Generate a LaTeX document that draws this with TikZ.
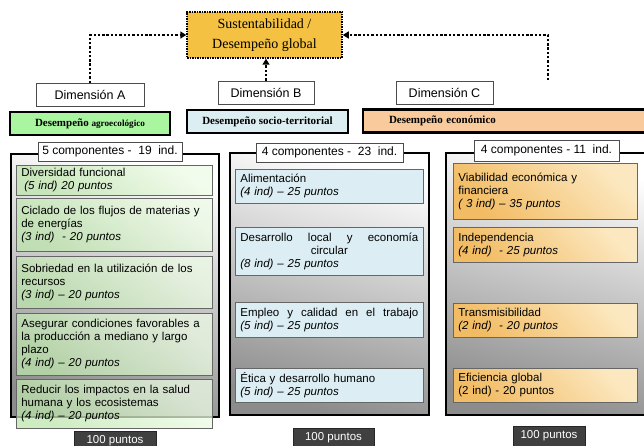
\documentclass[tikz,border=0pt]{standalone}
\usepackage{fontspec}
\setmainfont{Liberation Serif}
\setsansfont{Liberation Sans}
\usetikzlibrary{arrows.meta}

\definecolor{gold}{HTML}{F4C142}
\definecolor{agro}{HTML}{A9F5A0}
\definecolor{socio}{HTML}{DDEEF3}
\definecolor{econ}{HTML}{F8CA9C}
\definecolor{greenlt}{HTML}{EEFCE6}
\definecolor{greendk}{HTML}{BDE5AC}
\definecolor{bluelt}{HTML}{DCEEF4}
\definecolor{orlt}{HTML}{FCE8C0}
\definecolor{ordk}{HTML}{F2BC64}

\tikzset{
  sus/.style={draw, dash pattern=on 1.5pt off 1pt, line width=1.5pt, fill=gold,
    minimum width=155pt, minimum height=46pt, align=center,
    font=\fontsize{14}{20}\selectfont},
  dimbox/.style={draw=black!70, fill=white, line width=0.8pt, minimum height=23pt,
    font=\sffamily\fontsize{12.5}{14}\selectfont},
  perf/.style={draw, line width=2.8pt, minimum height=23pt,
    font=\bfseries\fontsize{11}{13}\selectfont},
  panel/.style={draw, line width=1.7pt, top color=white, middle color=black!8,
    bottom color=black!45, shading angle=-15},
  countbox/.style={draw=black!70, fill=white, line width=0.8pt,
    font=\sffamily\fontsize{12}{14}\selectfont},
  comp/.style={draw=black!60, line width=0.7pt, anchor=north west, align=left,
    inner xsep=5pt, inner ysep=3pt, font=\sffamily\fontsize{11.5}{13}\selectfont},
  compA/.style={comp, top color=greenlt, bottom color=greendk, shading angle=-45,
    fill opacity=0.75, text opacity=1, text width=186pt},
  compB/.style={comp, fill=bluelt, text width=178pt},
  compC/.style={comp, top color=orlt, bottom color=ordk, shading angle=-45,
    text width=174pt},
  points/.style={draw=black!85, fill=black!75, text=white, minimum height=20pt,
    font=\sffamily\fontsize{11.5}{13}\selectfont},
  dotarrow/.style={line width=2.4pt, dash pattern=on 2.4pt off 1.9pt,
    -{Triangle[length=6pt,width=7pt]}}
}

\begin{document}
\begin{tikzpicture}[x=1pt,y=-1pt]
  \useasboundingbox (0,0) rectangle (644,446);
  \clip (0,0) rectangle (644,446);

  % global performance
  \node[sus] (sus) at (264.5,35) {Sustentabilidad /\\Desempeño global};

  % dimensions
  \node[dimbox, minimum width=108pt] (dimA) at (90,95) {Dimensión A};
  \node[dimbox, minimum width=96pt] (dimB) at (266,92.5) {Dimensión B};
  \node[dimbox, minimum width=97pt] (dimC) at (444.5,92.5) {Dimensión C};
  \coordinate (startC) at (548,80);

  \draw[dotarrow] (dimA.north) |- (sus.west);
  \draw[dotarrow] (dimB.north) -- (dimB.north |- sus.south);
  \draw[dotarrow] (startC) |- (sus.east);

  % performance titles
  \node[perf, fill=agro, minimum width=160pt] (perfA) at (90,123.5)
    {Desempeño {\fontsize{9.2}{11}\selectfont agroecológico}};
  \node[perf, fill=socio, minimum width=161pt] (perfB) at (267.5,121.5)
    {Desempeño socio-territorial};
  \node[perf, fill=econ, inner xsep=0pt, text width=290pt, align=left] (perfC) at (508,121)
    {\hspace*{26pt}Desempeño económico};

  % panels
  \node[panel, minimum width=208pt, minimum height=263pt] (panA) at (115,285.5) {};
  \node[panel, minimum width=199pt, minimum height=262pt] (panB) at (329.5,284) {};
  \node[panel, minimum width=210pt, minimum height=262pt] (panC) at (551,284) {};

  \node[countbox, minimum width=144pt, minimum height=19pt] (cntA) at (110,151.5)
    {5 componentes - \ 19 \ ind.};
  \node[countbox, minimum width=147pt, minimum height=19pt] (cntB) at (329.5,152.5)
    {4 componentes - \ 23 \ ind.};
  \node[countbox, minimum width=145pt, minimum height=21pt] (cntC) at (546.5,150.5)
    {4 componentes - 11 \ ind.};

  % dimension A
  \node[compA, minimum height=29pt] (a1) at (16,165)
    {Diversidad funcional\\\hspace*{3pt}\textit{(5 ind) 20 puntos}};
  \node[compA, minimum height=53pt] (a2) at (16,198)
    {Ciclado de los flujos de materias y\\de energías\\\textit{(3 ind) \ - 20 puntos}};
  \node[compA, minimum height=52pt] (a3) at (16,256)
    {Sobriedad en la utilización de los\\recursos\\\textit{(3 ind) -- 20 puntos}};
  \node[compA, minimum height=62pt] (a4) at (16,313)
    {Asegurar condiciones favorables a\\la producción a mediano y largo\\plazo\\\textit{(4 ind) -- 20 puntos}};
  \node[compA, minimum height=49pt] (a5) at (16,379)
    {Reducir los impactos en la salud\\humana y los ecosistemas\\\textit{(4 ind) -- 20 puntos}};

  % dimension B
  \node[compB, minimum height=34pt] (b1) at (235,169)
    {Alimentación\\\textit{(4 ind) -- 25 puntos}};
  \node[compB, minimum height=48pt] (b2) at (235,227)
    {Desarrollo\hfill local\hfill y\hfill economía\\\mbox{}\hfill circular\hfill\mbox{}\\\textit{(8 ind) -- 25 puntos}};
  \node[compB, minimum height=35pt] (b3) at (235,302)
    {Empleo\hfill y\hfill calidad\hfill en\hfill el\hfill trabajo\\\textit{(5 ind) -- 25 puntos}};
  \node[compB, minimum height=34pt] (b4) at (235,368)
    {Ética y desarrollo humano\\\textit{(5 ind) -- 25 puntos}};

  % dimension C
  \node[compC, minimum height=56pt] (c1) at (453,163)
    {Viabilidad económica y\\financiera\\\textit{( 3 ind) -- 35 puntos}};
  \node[compC, minimum height=35pt] (c2) at (453,227)
    {Independencia\\\textit{(4 ind) \ - 25 puntos}};
  \node[compC, minimum height=34pt] (c3) at (453,303)
    {Transmisibilidad\\\textit{(2 ind) \ - 20 puntos}};
  \node[compC, minimum height=34pt] (c4) at (453,368)
    {Eficiencia global\\(2 ind) - 20 puntos};

  % totals
  \node[points, minimum width=82pt] (ptsA) at (115,441) {100 puntos};
  \node[points, minimum width=81pt] (ptsB) at (333.5,438) {100 puntos};
  \node[points, minimum width=72pt] (ptsC) at (549,436) {100 puntos};
\end{tikzpicture}
\end{document}
